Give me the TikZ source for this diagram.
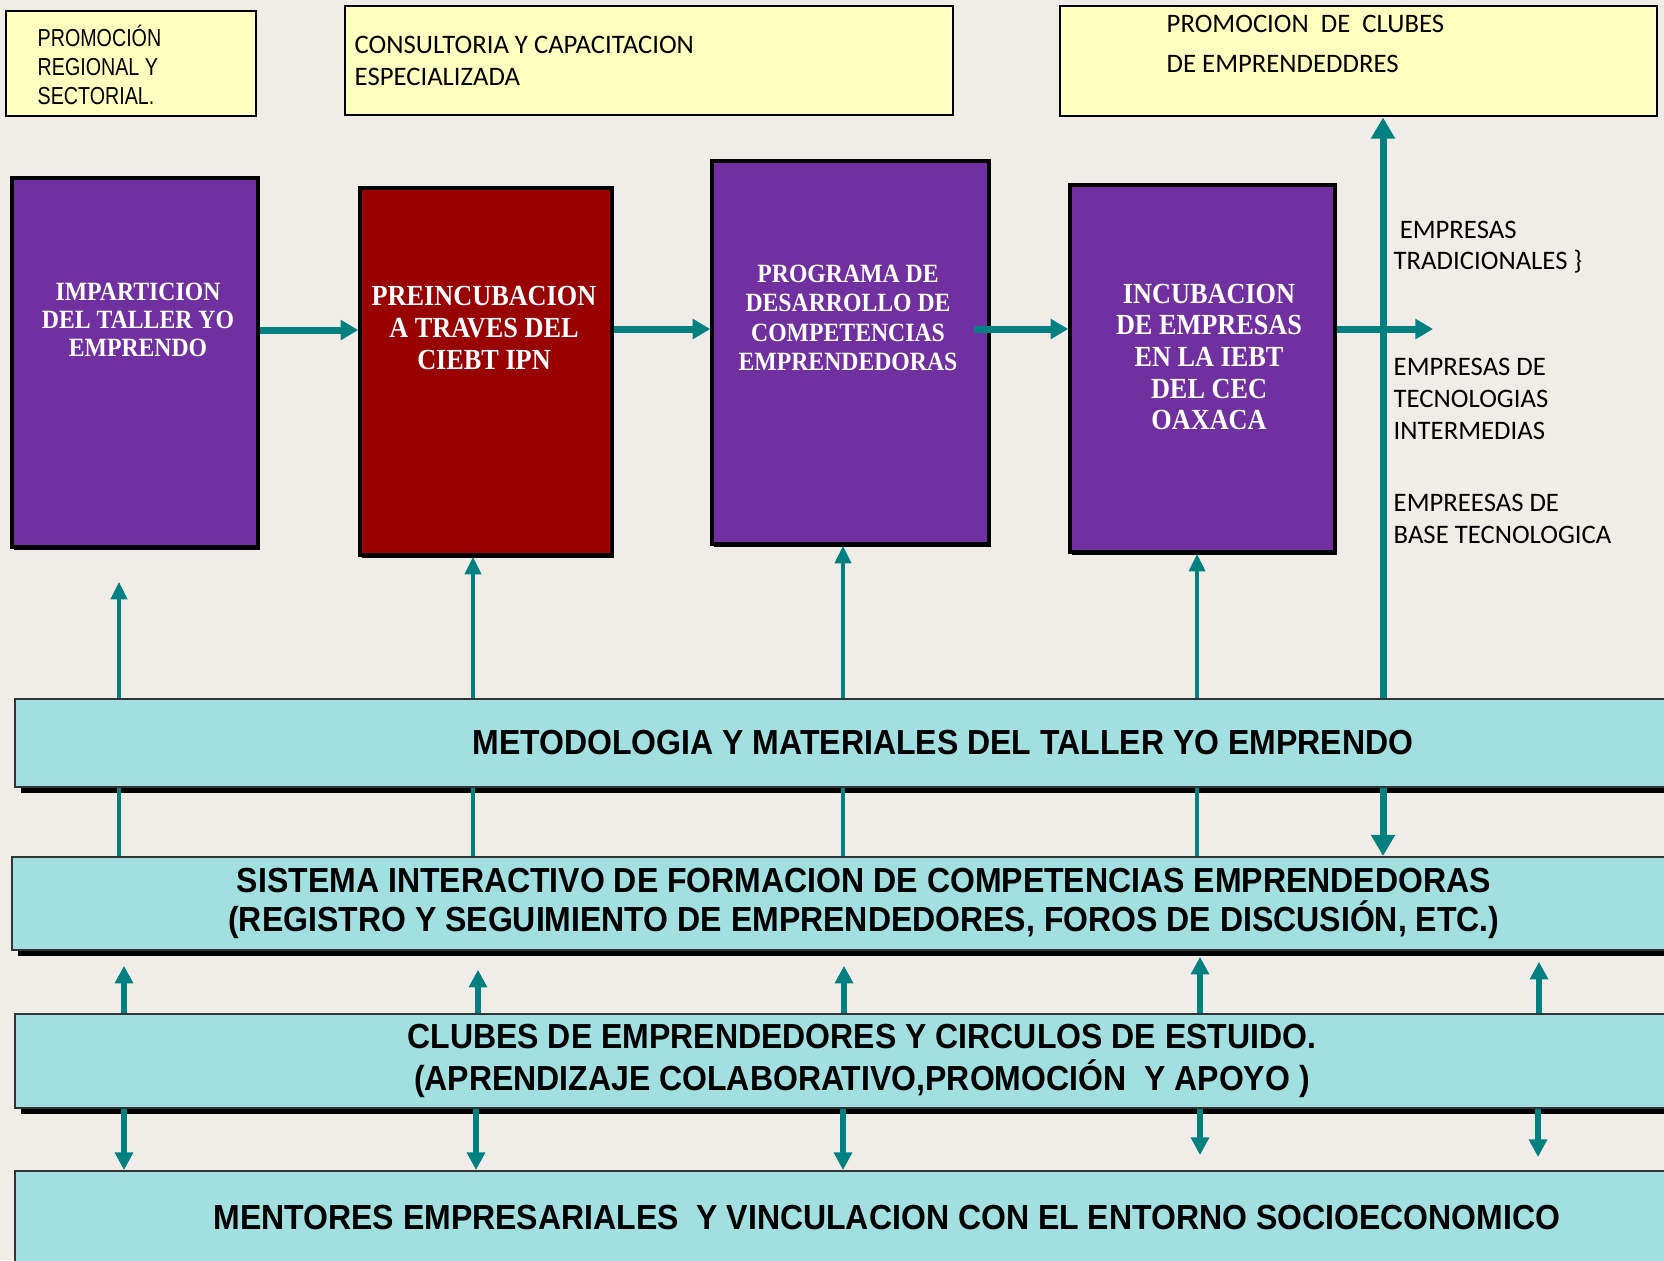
\documentclass[tikz,border=0pt]{standalone}
\usepackage{fontspec}
\setmainfont{Liberation Serif}
\newfontfamily\stagefont[FakeStretch=0.9]{Liberation Serif}
\newfontfamily\bandfont[FakeStretch=0.92]{Liberation Sans}
\newfontfamily\narrowfont[FakeStretch=0.8]{Liberation Sans}
\newfontfamily\calfont{Carlito}
\usepackage{tikz}
\usetikzlibrary{arrows.meta, calc, positioning}

\definecolor{bgpaper}{RGB}{240,237,233}
\definecolor{notecolor}{RGB}{255,255,192}
\definecolor{stagepurple}{RGB}{112,48,160}
\definecolor{stagered}{RGB}{153,0,0}
\definecolor{bandcyan}{RGB}{162,223,224}
\definecolor{flowteal}{RGB}{0,128,128}

\begin{document}
\begin{tikzpicture}[x=1cm, y=-1cm,
	note/.style={draw=black, line width=0.8pt, fill=notecolor, inner sep=0pt},
	stage/.style={draw=black, line width=1pt, fill=stagepurple, inner sep=0pt,
		preaction={fill=black, transform canvas={xshift=0.6pt, yshift=-0.9pt}}},
	stagetext/.style={text=white, align=center, inner sep=0pt},
	sidetext/.style={anchor=west, align=left, inner sep=0pt, font=\calfont\fontsize{7.6}{9}\selectfont},
	band/.style={draw=black!80, line width=0.5pt, fill=bandcyan, anchor=north west, inner sep=0pt, align=center,
		preaction={fill=black, transform canvas={xshift=1.6pt, yshift=-1.6pt}}},
	flow/.style={flowteal, line width=1.2pt, -{Triangle[length=5pt, width=4.5pt]}},
	flowlow/.style={flowteal, line width=1.5pt, -{Triangle[length=5pt, width=5pt]}},
	hflow/.style={flowteal, line width=2pt, -{Triangle[length=5pt, width=5.5pt]}},
	bigflow/.style={flowteal, line width=2pt, -{Triangle[length=6pt, width=6.5pt]}},
	link/.style={flowteal, line width=1.2pt}]

	% Background
	\clip (0,0) rectangle (16.64,12.6);
	\fill[bgpaper] (0,0) rectangle (16.64,12.6);

	% Top notes
	\node[note, minimum width=2.50cm, minimum height=1.05cm] (promreg) at (1.31,0.635) {};
	\node[anchor=west, align=left, inner sep=0pt, font=\narrowfont\fontsize{7}{8.2}\selectfont] (promreg-txt) at (0.37,0.65) {PROMOCIÓN\\REGIONAL Y\\SECTORIAL.};
	\node[note, minimum width=6.08cm, minimum height=1.09cm] (consult) at (6.49,0.605) {};
	\node[sidetext, font=\calfont\fontsize{7.6}{9.1}\selectfont] (consult-txt) at (3.54,0.61) {CONSULTORIA Y CAPACITACION\\ESPECIALIZADA};
	\node[note, minimum width=5.97cm, minimum height=1.10cm] (promclub) at (13.585,0.61) {};
	\node[sidetext, font=\calfont\fontsize{7.6}{11.2}\selectfont] (promclub-txt) at (11.66,0.44) {PROMOCION\ \ DE\ \ CLUBES\\DE EMPRENDEDDRES};

	% Bands
	\node[band, minimum width=18.56cm, minimum height=0.88cm, font=\bandfont\bfseries\fontsize{9.9}{11}\selectfont] (metod) at (0.14,6.98) {METODOLOGIA Y MATERIALES DEL TALLER YO EMPRENDO};
	\node[band, minimum width=17.04cm, minimum height=0.93cm, font=\bandfont\bfseries\fontsize{9.9}{11}\selectfont] (sistema) at (0.11,8.56) {SISTEMA INTERACTIVO DE FORMACION DE COMPETENCIAS EMPRENDEDORAS\\(REGISTRO Y SEGUIMIENTO DE EMPRENDEDORES, FOROS DE DISCUSIÓN, ETC.)};
	\node[band, minimum width=16.94cm, minimum height=0.94cm, font=\bandfont\bfseries\fontsize{9.9}{12}\selectfont] (clubes) at (0.14,10.13) {CLUBES DE EMPRENDEDORES Y CIRCULOS DE ESTUIDO.\\(APRENDIZAJE COLABORATIVO,PROMOCIÓN\ \ Y APOYO )};
	\node[band, minimum width=17.44cm, minimum height=0.94cm, font=\bandfont\bfseries\fontsize{9.9}{11}\selectfont] (mentores) at (0.14,11.70) {MENTORES EMPRESARIALES\ \ Y VINCULACION CON EL ENTORNO SOCIOECONOMICO};

	% Stages
	\node[stage, minimum width=2.46cm, minimum height=3.69cm] (impart) at (1.35,3.625) {};
	\node[stagetext, font=\stagefont\bfseries\fontsize{7.5}{8}\selectfont] (impart-txt) at (1.38,3.20) {IMPARTICION\\DEL TALLER YO\\EMPRENDO};
	\node[stage, fill=stagered, minimum width=2.52cm, minimum height=3.67cm] (preinc) at (4.86,3.715) {};
	\node[stagetext, font=\stagefont\bfseries\fontsize{8.3}{9}\selectfont] (preinc-txt) at (4.84,3.28) {PREINCUBACION\\A TRAVES DEL\\CIEBT IPN};
	\node[stage, minimum width=2.77cm, minimum height=3.83cm] (progdes) at (8.505,3.525) {};
	\node[stagetext, font=\stagefont\bfseries\fontsize{7.5}{8.4}\selectfont] (progdes-txt) at (8.48,3.18) {PROGRAMA DE\\DESARROLLO DE\\COMPETENCIAS\\EMPRENDEDORAS};
	\node[stage, minimum width=2.65cm, minimum height=3.67cm] (incub) at (12.025,3.685) {};
	\node[stagetext, font=\stagefont\bfseries\fontsize{8.3}{9}\selectfont] (incub-txt) at (12.09,3.57) {INCUBACION\\DE EMPRESAS\\EN LA IEBT\\DEL CEC\\OAXACA};

	% Kinds of firms
	\node[sidetext] (tradic) at (13.93,2.47) {\ EMPRESAS\\TRADICIONALES \}};
	\node[sidetext] (interm) at (13.93,3.99) {EMPRESAS DE\\TECNOLOGIAS\\INTERMEDIAS};
	\node[sidetext] (basetec) at (13.93,5.19) {EMPREESAS DE\\BASE TECNOLOGICA};

	% Flow between stages
	\coordinate (salida) at (14.33,3.29);
	\draw[hflow] (impart.east |- 0,3.30) -- (preinc.west |- 0,3.30);
	\draw[hflow] (preinc.east |- 0,3.29) -- (progdes.west |- 0,3.29);
	\draw[hflow, shorten <=-1.7mm] (progdes.east |- 0,3.29) -- (incub.west |- 0,3.29);
	\draw[hflow] (incub.east |- 0,3.29) -- (salida);

	% Methodology feeds every stage
	\draw[flow, shorten >=3.3mm] (metod.north -| 1.19,0) -- (impart.south -| 1.19,0);
	\draw[flow] (metod.north -| 4.73,0) -- (preinc.south -| 4.73,0);
	\draw[flow] (metod.north -| 8.43,0) -- (progdes.south -| 8.43,0);
	\draw[flow] (metod.north -| 11.97,0) -- (incub.south -| 11.97,0);
	\draw[bigflow] (metod.north -| 13.83,0) -- (promclub.south -| 13.83,0);

	% Methodology and interactive system
	\draw[link] (metod.south -| 1.19,0) -- (sistema.north -| 1.19,0);
	\draw[link] (metod.south -| 4.73,0) -- (sistema.north -| 4.73,0);
	\draw[link] (metod.south -| 8.43,0) -- (sistema.north -| 8.43,0);
	\draw[link] (metod.south -| 11.97,0) -- (sistema.north -| 11.97,0);
	\draw[bigflow] (metod.south -| 13.83,0) -- (sistema.north -| 13.83,0);

	% Clubs up to the system
	\draw[flowlow, shorten >=1.5mm] (clubes.north -| 1.24,0) -- (sistema.south -| 1.24,0);
	\draw[flowlow, shorten >=1.9mm] (clubes.north -| 4.78,0) -- (sistema.south -| 4.78,0);
	\draw[flowlow, shorten >=1.5mm] (clubes.north -| 8.44,0) -- (sistema.south -| 8.44,0);
	\draw[flowlow, shorten >=0.6mm] (clubes.north -| 12.00,0) -- (sistema.south -| 12.00,0);
	\draw[flowlow, shorten >=1.1mm] (clubes.north -| 15.39,0) -- (sistema.south -| 15.39,0);

	% Clubs down to the mentors
	\draw[flowlow] (clubes.south -| 1.24,0) -- (mentores.north -| 1.24,0);
	\draw[flowlow] (clubes.south -| 4.76,0) -- (mentores.north -| 4.76,0);
	\draw[flowlow] (clubes.south -| 8.43,0) -- (mentores.north -| 8.43,0);
	\draw[flowlow, shorten >=1.5mm] (clubes.south -| 12.00,0) -- (mentores.north -| 12.00,0);
	\draw[flowlow, shorten >=1.3mm] (clubes.south -| 15.38,0) -- (mentores.north -| 15.38,0);
\end{tikzpicture}
\end{document}
